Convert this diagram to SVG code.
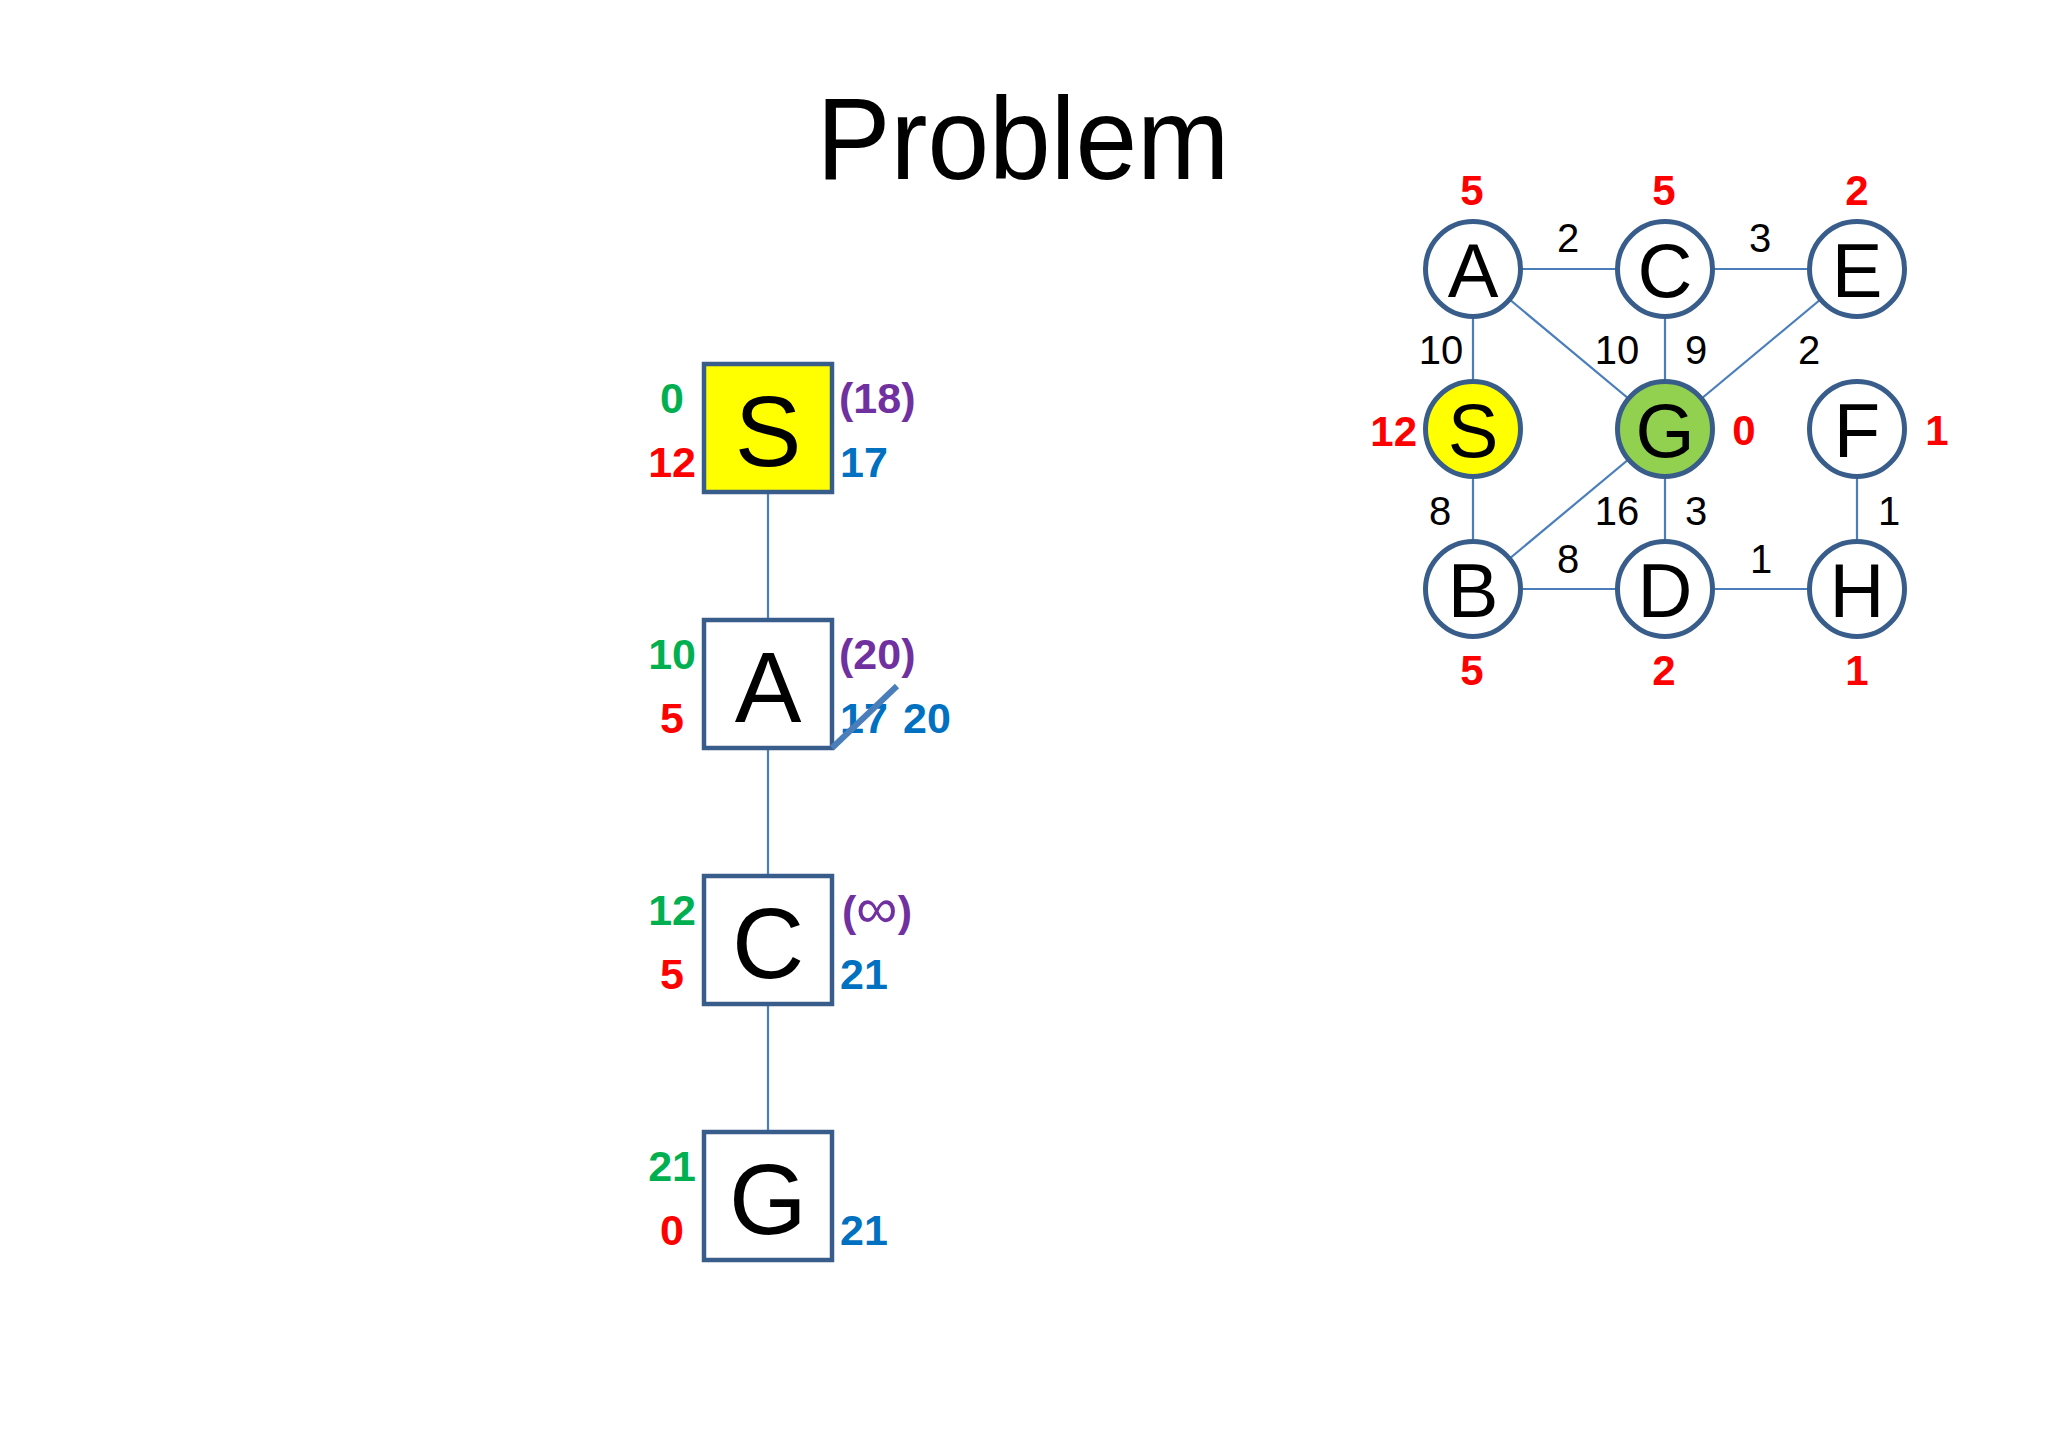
<svg xmlns="http://www.w3.org/2000/svg" width="2048" height="1434" viewBox="0 0 2048 1434">
<style>
text{font-family:"Liberation Sans",Arial,sans-serif}
.box{fill:#ffffff;stroke:#385d8a;stroke-width:4.5}
.circ{fill:#ffffff;stroke:#385d8a;stroke-width:5}
.edge{stroke:#4a7ebb;stroke-width:2.2;fill:none}
.big{font-size:100px;fill:#000;text-anchor:middle}
.nl{font-size:76px;fill:#000;text-anchor:middle}
.lab{font-size:43px;font-weight:bold}
.g{fill:#00b050}
.r{fill:#ff0000}
.p{fill:#7030a0}
.b{fill:#0070c0}
.w{font-size:40px;fill:#000;text-anchor:middle}
.hr{font-size:42px;font-weight:bold;fill:#ff0000;text-anchor:middle}
</style>
<rect width="2048" height="1434" fill="#ffffff"/>
<text x="1023" y="179" font-size="116" text-anchor="middle" textLength="413" lengthAdjust="spacingAndGlyphs">Problem</text>

<g id="tree-connectors">
<line class="edge" x1="768" y1="493" x2="768" y2="620"/>
<line class="edge" x1="768" y1="749" x2="768" y2="876"/>
<line class="edge" x1="768" y1="1005" x2="768" y2="1132"/>
</g>

<g id="tree-S">
<rect class="box" x="704" y="364" width="128" height="128" style="fill:#ffff00"/>
<text class="big" x="768" y="466">S</text>
<text class="lab g" x="672" y="413" text-anchor="middle">0</text>
<text class="lab r" x="696" y="477" text-anchor="end">12</text>
<text class="lab p" x="839" y="413">(18)</text>
<text class="lab b" x="840" y="477">17</text>
</g>
<g id="tree-A">
<rect class="box" x="704" y="620" width="128" height="128"/>
<text class="big" x="768" y="722">A</text>
<text class="lab g" x="696" y="669" text-anchor="end">10</text>
<text class="lab r" x="672" y="733" text-anchor="middle">5</text>
<text class="lab p" x="839" y="669">(20)</text>
<text class="lab b" x="840" y="733">17</text>
<text class="lab b" x="903" y="733">20</text>
<line x1="832" y1="748" x2="897" y2="686" stroke="#4a7ebb" stroke-width="6"/>
</g>
<g id="tree-C">
<rect class="box" x="704" y="876" width="128" height="128"/>
<text class="big" x="768" y="978">C</text>
<text class="lab g" x="696" y="925" text-anchor="end">12</text>
<text class="lab r" x="672" y="989" text-anchor="middle">5</text>
<text class="lab p" x="842" y="926" font-size="45">(<tspan font-weight="normal" font-size="58" dy="2">∞</tspan><tspan dy="-2">)</tspan></text>
<text class="lab b" x="840" y="989">21</text>
</g>
<g id="tree-G">
<rect class="box" x="704" y="1132" width="128" height="128"/>
<text class="big" x="768" y="1234">G</text>
<text class="lab g" x="696" y="1181" text-anchor="end">21</text>
<text class="lab r" x="672" y="1245" text-anchor="middle">0</text>
<text class="lab b" x="840" y="1245">21</text>
</g>

<g id="graph-edges">
<line class="edge" x1="1473" y1="269" x2="1665" y2="269"/>
<line class="edge" x1="1665" y1="269" x2="1857" y2="269"/>
<line class="edge" x1="1473" y1="269" x2="1473" y2="429"/>
<line class="edge" x1="1473" y1="269" x2="1665" y2="429"/>
<line class="edge" x1="1665" y1="269" x2="1665" y2="429"/>
<line class="edge" x1="1857" y1="269" x2="1665" y2="429"/>
<line class="edge" x1="1473" y1="429" x2="1473" y2="589"/>
<line class="edge" x1="1665" y1="429" x2="1473" y2="589"/>
<line class="edge" x1="1665" y1="429" x2="1665" y2="589"/>
<line class="edge" x1="1473" y1="589" x2="1665" y2="589"/>
<line class="edge" x1="1665" y1="589" x2="1857" y2="589"/>
<line class="edge" x1="1857" y1="429" x2="1857" y2="589"/>
</g>
<g id="edge-weights">
<text class="w" x="1568" y="252">2</text>
<text class="w" x="1760" y="252">3</text>
<text class="w" x="1441" y="364">10</text>
<text class="w" x="1617" y="364">10</text>
<text class="w" x="1696" y="364">9</text>
<text class="w" x="1809" y="364">2</text>
<text class="w" x="1440" y="525">8</text>
<text class="w" x="1617" y="525">16</text>
<text class="w" x="1696" y="525">3</text>
<text class="w" x="1889" y="525">1</text>
<text class="w" x="1568" y="573">8</text>
<text class="w" x="1761" y="573">1</text>
</g>

<g id="node-A"><circle class="circ" cx="1473" cy="269" r="47.5"/><text class="nl" x="1473" y="297">A</text><text class="hr" x="1472" y="205">5</text></g>
<g id="node-C"><circle class="circ" cx="1665" cy="269" r="47.5"/><text class="nl" x="1665" y="297">C</text><text class="hr" x="1664" y="205">5</text></g>
<g id="node-E"><circle class="circ" cx="1857" cy="269" r="47.5"/><text class="nl" x="1857" y="297">E</text><text class="hr" x="1857" y="205">2</text></g>
<g id="node-S"><circle class="circ" cx="1473" cy="429" r="47.5" style="fill:#ffff00"/><text class="nl" x="1473" y="457">S</text><text class="hr" x="1417" y="446" style="text-anchor:end">12</text></g>
<g id="node-G"><circle class="circ" cx="1665" cy="429" r="47.5" style="fill:#92d050"/><text class="nl" x="1665" y="457">G</text><text class="hr" x="1744" y="445">0</text></g>
<g id="node-F"><circle class="circ" cx="1857" cy="429" r="47.5"/><text class="nl" x="1857" y="457">F</text><text class="hr" x="1937" y="445">1</text></g>
<g id="node-B"><circle class="circ" cx="1473" cy="589" r="47.5"/><text class="nl" x="1473" y="617">B</text><text class="hr" x="1472" y="685">5</text></g>
<g id="node-D"><circle class="circ" cx="1665" cy="589" r="47.5"/><text class="nl" x="1665" y="617">D</text><text class="hr" x="1664" y="685">2</text></g>
<g id="node-H"><circle class="circ" cx="1857" cy="589" r="47.5"/><text class="nl" x="1857" y="617">H</text><text class="hr" x="1857" y="685">1</text></g>
</svg>
